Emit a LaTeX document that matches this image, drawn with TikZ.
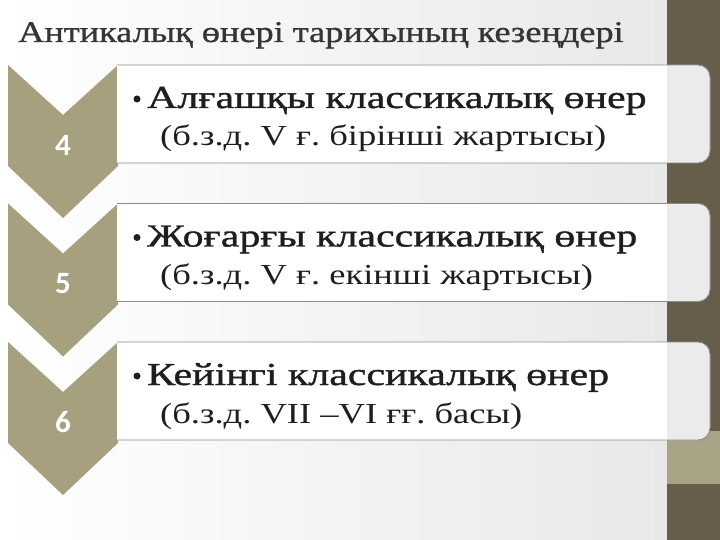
\documentclass[tikz,border=0pt]{standalone}
\usepackage{fontspec}
\setmainfont{Liberation Serif}
\newfontfamily\headfont[FakeStretch=1.31,FakeBold=1.2]{Liberation Serif}
\newfontfamily\subfont[FakeStretch=1.26]{Liberation Serif}
\newfontfamily\titlefont[FakeStretch=1.21,FakeBold=1]{Liberation Serif}
\newfontfamily\numfont{Carlito}
\definecolor{stripbrown}{HTML}{665D4A}
\definecolor{bandolive}{HTML}{A9A385}
\definecolor{chevolive}{HTML}{A6A07E}
\definecolor{titlegray}{HTML}{353535}
\definecolor{textdark}{HTML}{1E1E1E}
\definecolor{boxline}{HTML}{8C8C8C}
\tikzset{
  chev/.style={fill=chevolive},
  numlabel/.style={font=\numfont\bfseries\fontsize{31}{31}\selectfont, text=white, inner sep=0pt},
  headline/.style={anchor=base west, inner sep=0pt, text=textdark, font=\headfont\frenchspacing\fontsize{32}{32}\selectfont},
  subline/.style={anchor=base west, inner sep=0pt, text=textdark, font=\subfont\frenchspacing\fontsize{29}{29}\selectfont},
  bulletmark/.style={circle, fill=textdark, inner sep=0pt, minimum size=7pt},
}
\newcommand{\stage}[5]{%
  \fill[chev] (8,#1) -- (63,#1+50) -- (118,#1) -- (118,#1+101) -- (63,#1+153) -- (8,#1+101) -- cycle;
  \node[numlabel] (num#5) at (63,#1+80) {#2};
  \begin{scope}
    \clip (117,#1-3) rectangle (720,#1+101);
    \fill[white] [rounded corners=12pt] (90,#1) rectangle (710,#1+98);
    \begin{scope}
      \clip[rounded corners=12pt] (90,#1) rectangle (710,#1+98);
      \fill[black!8] (667,#1) rectangle (712,#1+98);
    \end{scope}
    \draw[boxline, line width=0.9pt] [rounded corners=12pt] (90,#1) rectangle (710,#1+98);
  \end{scope}
  \node[bulletmark] (bul#5) at (137,#1+34) {};
  \node[headline] (head#5) at (147,#1+43) {#3};
  \node[subline] (sub#5) at (160,#1+81) {#4};
}
\begin{document}
\begin{tikzpicture}[x=1pt,y=-1pt]
\useasboundingbox (0,0) rectangle (720,540);
\shade[left color=white, right color=black!9] (0,0) rectangle (667,540);
\fill[stripbrown] (667,0) rectangle (720,540);
\fill[bandolive] (667,431) rectangle (720,484);
\node[anchor=base west, inner sep=0pt, text=titlegray, font=\titlefont\fontsize{30}{30}\selectfont] (title) at (18,42) {Антикалық өнері тарихының кезеңдері};
\stage{65}{4}{Алғашқы классикалық өнер}{(б.з.д. V ғ. бірінші жартысы)}{a}
\stage{203.5}{5}{Жоғарғы классикалық өнер}{(б.з.д. V ғ. екінші жартысы)}{b}
\stage{342}{6}{Кейінгі классикалық өнер}{(б.з.д. VII –VI ғғ. басы)}{c}
\end{tikzpicture}
\end{document}
